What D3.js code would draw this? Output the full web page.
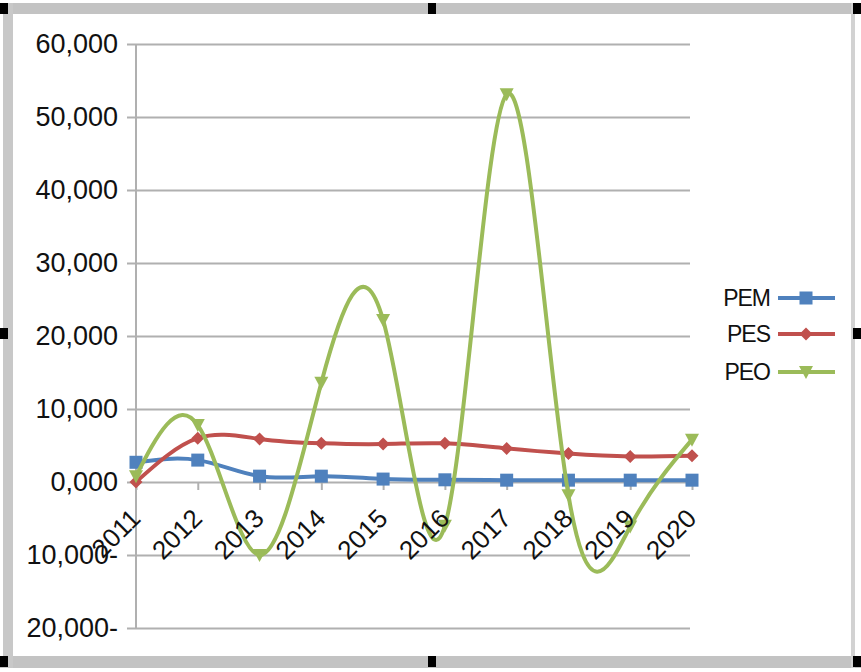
<!DOCTYPE html>
<html><head><meta charset="utf-8">
<script src="https://cdn.jsdelivr.net/npm/d3@7"></script>
<style>html,body{margin:0;padding:0;background:#fff;}svg{display:block;}</style>
</head><body>
<svg id="c" width="861" height="672"></svg>
<script>
const years = ['2011','2012','2013','2014','2015','2016','2017','2018','2019','2020'];
const PEM = [2700, 3000, 800, 800, 400, 300, 250, 250, 250, 250];
const PES = [0, 6000, 5900, 5300, 5200, 5300, 4600, 3900, 3500, 3600];
const PEO = [800, 7800, -10000, 13600, 22200, -6000, 53100, -1800, -6100, 5800];
const seriesNames = ['PEM','PES','PEO'];
const yTickValues = [-20000,-10000,0,10000,20000,30000,40000,50000,60000];
const yTickLabels = ['20,000-','10,000-','0,000','10,000','20,000','30,000','40,000','50,000','60,000'];

const colors = {PEM:'#4f81bd', PES:'#c0504d', PEO:'#9bbb59'};
const svg = d3.select('#c');
const font = "'Liberation Sans', Arial, sans-serif";

// frame
svg.append('rect').attr('x',0).attr('y',0).attr('width',861).attr('height',672).attr('fill','#fff');
const fr = svg.append('g');
fr.append('rect').attr('x',0).attr('y',3).attr('width',861).attr('height',11).attr('fill','#c3c3c3');
fr.append('rect').attr('x',0).attr('y',656).attr('width',861).attr('height',12).attr('fill','#c3c3c3');
fr.append('rect').attr('x',3).attr('y',3).attr('width',10).attr('height',665).attr('fill','#c8c8c8');
fr.append('rect').attr('x',851).attr('y',3).attr('width',4).attr('height',665).attr('fill','#d2d2d2');
[[0,3],[428,3],[853,3],[0,328],[853,328],[0,656],[428,656],[853,656]].forEach(([x,y])=>{
  fr.append('rect').attr('x',x).attr('y',y).attr('width',8).attr('height',11).attr('fill','#000');
});

const x = d3.scalePoint().domain(years).range([136, 692]);
const y = d3.scaleLinear().domain([-20000, 60000]).range([628, 44]);

// gridlines
const yAxis = d3.axisLeft(y).tickValues(yTickValues)
  .tickFormat((d,i)=>yTickLabels[i]).tickSize(-(690-127)).tickPadding(10);
const gy = svg.append('g').attr('transform','translate(127,0)').call(yAxis);
gy.select('.domain').remove();
gy.selectAll('.tick line').attr('stroke','#b0b0b0').attr('stroke-width',2);
gy.selectAll('.tick text').attr('x',-9).attr('font-family',font).attr('font-size',27).attr('fill','#111');

// vertical axis line
svg.append('line').attr('x1',136).attr('x2',136).attr('y1',y(60000)).attr('y2',y(-20000))
  .attr('stroke','#b0b0b0').attr('stroke-width',2);

// category axis ticks at zero
const xAxis = d3.axisBottom(x).tickSize(8).tickFormat('');
const gx = svg.append('g').attr('transform',`translate(0,${y(0)})`).call(xAxis);
gx.select('.domain').remove();
gx.selectAll('.tick line').attr('stroke','#b0b0b0').attr('stroke-width',2);

// series
const data = {PEM, PES, PEO};
const line = d3.line().x((d,i)=>x(years[i])).y(d=>y(d)).curve(d3.curveNatural);

function marker(g, name, cx, cy){
  if(name==='PEM'){
    g.append('rect').attr('x',cx-6.5).attr('y',cy-6.5).attr('width',13).attr('height',13).attr('fill',colors.PEM);
  } else if(name==='PES'){
    g.append('path').attr('d',`M${cx},${cy-6.5}L${cx+6.5},${cy}L${cx},${cy+6.5}L${cx-6.5},${cy}Z`).attr('fill',colors.PES);
  } else {
    g.append('path').attr('d',`M${cx-7},${cy-6}L${cx+7},${cy-6}L${cx},${cy+7}Z`).attr('fill',colors.PEO);
  }
}

seriesNames.forEach(name=>{
  const g = svg.append('g');
  g.append('path').datum(data[name]).attr('d',line).attr('fill','none')
    .attr('stroke',colors[name]).attr('stroke-width',4).attr('stroke-linejoin','round');
  data[name].forEach((v,i)=>marker(g,name,x(years[i]),y(v)));
});

// x labels
svg.append('g').selectAll('text').data(years).join('text')
  .attr('transform',d=>`translate(${x(d)+6},${y(0)+38}) rotate(-45)`)
  .attr('text-anchor','end').attr('font-family',font).attr('font-size',26).attr('fill','#111')
  .text(d=>d);

// legend
const lg = svg.append('g');
const ly = [298, 334, 372];
seriesNames.forEach((name,i)=>{
  lg.append('line').attr('x1',778).attr('x2',835).attr('y1',ly[i]).attr('y2',ly[i])
    .attr('stroke',colors[name]).attr('stroke-width',4);
  marker(lg,name,806,ly[i]);
  lg.append('text').attr('x',770).attr('y',ly[i]).attr('dy','0.35em').attr('text-anchor','end')
    .attr('font-family',font).attr('font-size',23).attr('letter-spacing',-1).attr('fill','#111').text(name);
});
</script>
</body></html>
